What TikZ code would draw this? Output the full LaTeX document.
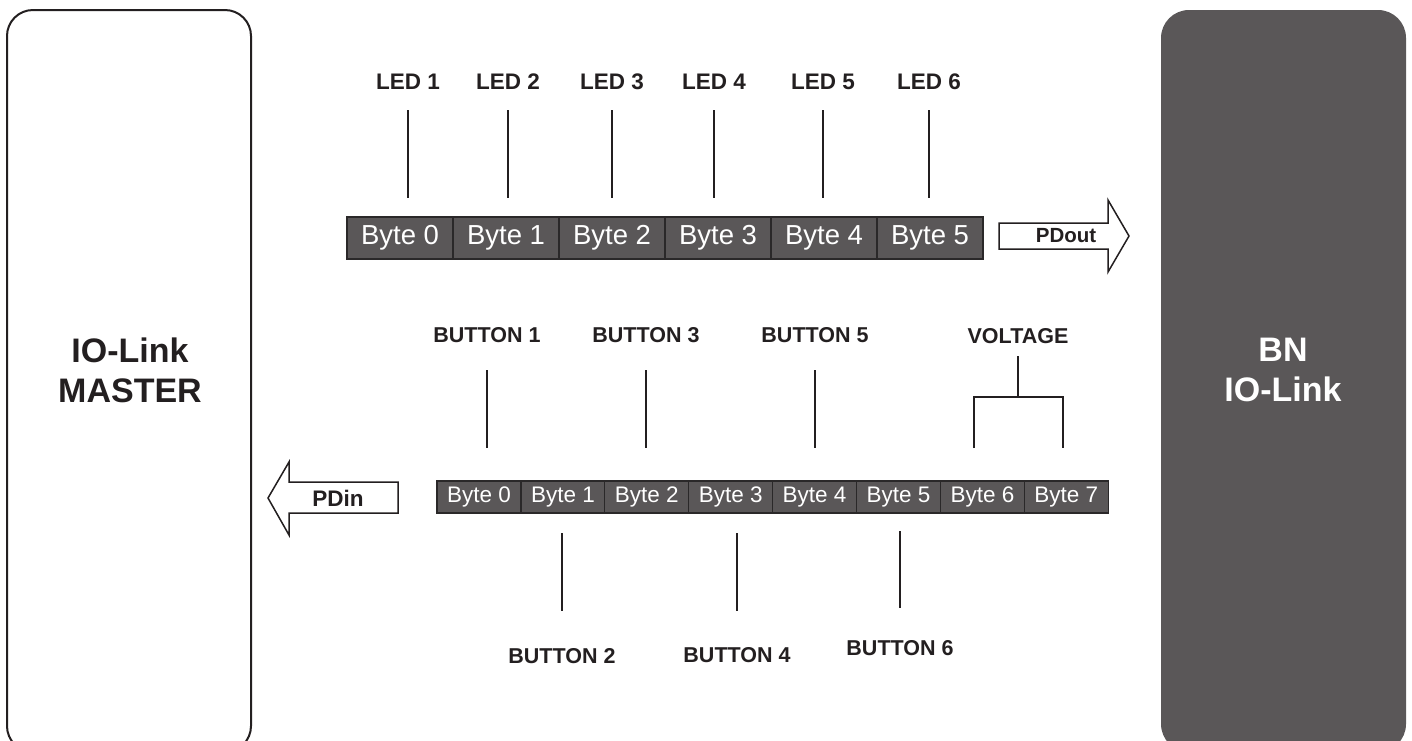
\documentclass[tikz,border=0pt]{standalone}
\usepackage{fontspec}
\setmainfont{Liberation Sans}
\definecolor{dgray}{HTML}{5A5758}
\definecolor{ink}{HTML}{231F20}
\definecolor{cellline}{HTML}{2A2829}
\begin{document}
\begin{tikzpicture}[x=1pt,y=-1pt,
  lbl/.style={font=\bfseries\fontsize{21.5}{25}\selectfont, text=ink, anchor=base, inner sep=0},
  ledlbl/.style={font=\bfseries\fontsize{22.5}{26}\selectfont, text=ink, anchor=base, inner sep=0},
  topcell/.style={draw=cellline, line width=1.2pt, fill=dgray, text=white, inner sep=0,
     minimum width=106pt, minimum height=42pt, font=\fontsize{27.5}{30}\selectfont},
  botcell/.style={draw=cellline, line width=1.2pt, fill=dgray, text=white, inner sep=0,
     minimum width=84pt, minimum height=32pt, font=\fontsize{22.5}{26}\selectfont},
  tick/.style={draw=ink, line width=1.4pt},
  arrowshape/.style={draw=ink, line width=1.5pt, fill=white, line join=miter},
  big/.style={font=\bfseries\fontsize{34}{40}\selectfont, align=center, inner sep=0}
]
\useasboundingbox (0,0) rectangle (1412,740);
\begin{scope}
\clip (0,0) rectangle (1412,740);
% side boxes
\draw[draw=ink, line width=2pt, rounded corners=26pt] (7,10) rectangle (251,752);
\fill[dgray, rounded corners=28pt] (1161,10) rectangle (1406,752);
\end{scope}
\node[big, text=ink] (master) at (130,370) {IO-Link\\MASTER};
\node[big, text=white] (bn) at (1283,370) {BN\\IO-Link};

% top row of bytes
\foreach \i in {0,...,5} {
  \node[topcell] (t\i) at ({347+53+106*\i},238) {Byte \i};
}
% LED labels and ticks
\foreach \n/\x in {1/408,2/508,3/612,4/714,5/823,6/929} {
  \node[ledlbl] (led\n) at (\x,89) {LED \n};
  \coordinate (la\n) at (\x,110);
  \coordinate (lb\n) at (\x,198);
  \draw[tick] (la\n) -- (lb\n);
}

% PDout arrow
\draw[arrowshape] (999,223) -- (1108,223) -- (1108,200) -- (1129,236) -- (1108,272) -- (1108,249) -- (999,249) -- cycle;
\node[font=\bfseries\fontsize{20.5}{24}\selectfont, text=ink] (pdout) at (1066,236) {PDout};

% bottom row of bytes
\foreach \i in {0,...,7} {
  \node[botcell] (c\i) at ({437+42+83.9*\i},497) {Byte \i};
}

% PDin arrow
\draw[arrowshape] (398,482) -- (289,482) -- (289,462) -- (268,498) -- (289,535) -- (289,513) -- (398,513) -- cycle;
\node[font=\bfseries\fontsize{22.5}{26}\selectfont, text=ink] (pdin) at (338,498) {PDin};

% upper button labels
\foreach \n/\x in {1/487,3/646,5/815} {
  \node[lbl] (btn\n) at (\x,342) {BUTTON \n};
  \coordinate (ba\n) at (\x,370);
  \coordinate (bb\n) at (\x,448);
  \draw[tick] (ba\n) -- (bb\n);
}
% lower button labels
\foreach \n/\x/\y/\ya/\yb in {2/562/663/533/611,4/737/662/533/611,6/900/655/531/608} {
  \node[lbl] (btn\n) at (\x,\y) {BUTTON \n};
  \coordinate (ba\n) at (\x,\ya);
  \coordinate (bb\n) at (\x,\yb);
  \draw[tick] (ba\n) -- (bb\n);
}

% voltage bracket
\node[lbl] (volt) at (1018,343) {VOLTAGE};
\coordinate (v0) at (1018,356);
\coordinate (v1) at (1018,397);
\coordinate (vl) at (974,397);
\coordinate (vr) at (1063,397);
\coordinate (vlb) at (974,448);
\coordinate (vrb) at (1063,448);
\draw[tick] (v0) -- (v1);
\draw[tick] (vlb) -- (vl) -- (vr) -- (vrb);
\end{tikzpicture}
\end{document}
